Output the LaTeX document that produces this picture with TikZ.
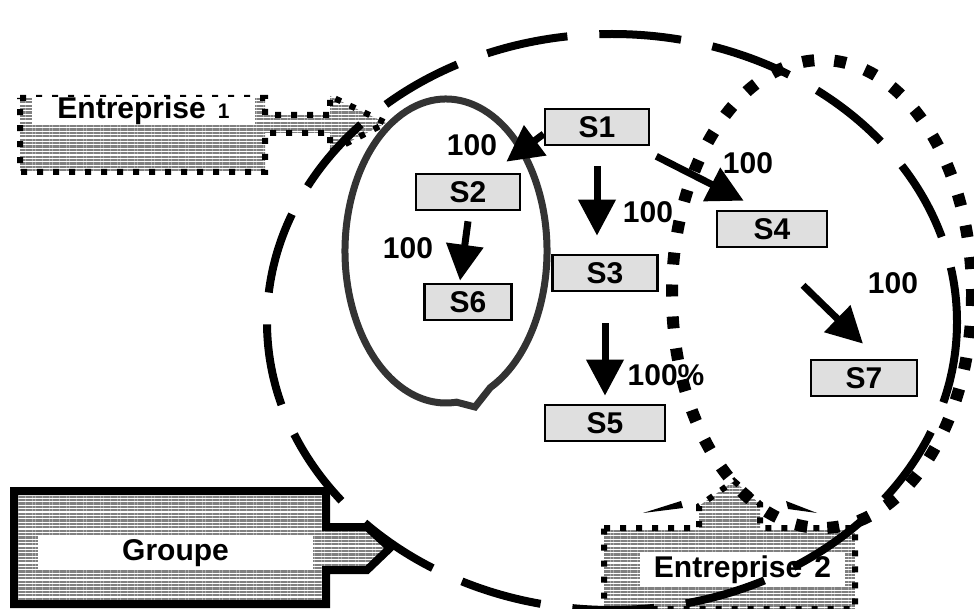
\documentclass[tikz,border=0pt]{standalone}
\usepackage{fontspec}
\setmainfont{Liberation Sans}
\usetikzlibrary{arrows.meta,patterns.meta}

\tikzset{
  sbox/.style={draw, line width=1.3pt, fill=gray!25, inner sep=0pt,
    minimum height=18pt, font=\fontsize{15}{18}\selectfont\bfseries},
  pct/.style={inner sep=0pt, font=\fontsize{15}{18}\selectfont\bfseries},
  tag/.style={fill=white, inner sep=0pt, font=\fontsize{15}{18}\selectfont\bfseries},
  link/.style={line width=3.5pt, -{Triangle[length=18pt,width=18pt]}},
  hatch/.style={pattern={Lines[angle=0,distance=1.7pt,line width=1.1pt]}, pattern color=gray},
  smalldots/.style={line width=3pt, dash pattern=on 3pt off 5pt},
}

\begin{document}
\begin{tikzpicture}[x=0.5pt, y=-0.5pt]

    \useasboundingbox (0,0) rectangle (974,609);

    % --- Callouts ---
    % Entreprise 1, pointing right
    \draw[hatch, smalldots] (20,98) -- (265,98) -- (265,115) -- (330,115) -- (330,96)
        -- (386,123) -- (330,152) -- (330,133) -- (265,133) -- (265,172) -- (20,172) -- cycle;
    \node[tag, minimum width=111.5pt, minimum height=12.5pt] (ent1) at (143.5,111)
        {Entreprise\hspace{6pt}{\fontsize{10.5}{12}\selectfont 1}};

    % Groupe, pointing right
    \draw[hatch, line width=4pt, line join=miter] (14,491) -- (326,491) -- (326,527) -- (367,527)
        -- (390,548) -- (367,570) -- (326,570) -- (326,604) -- (14,604) -- cycle;
    \node[tag, minimum width=137.5pt, minimum height=17pt] (grp) at (175.5,553) {Groupe};

    % Entreprise 2, pointing up
    \draw[hatch, smalldots] (604,528) -- (699,528) -- (699,506) -- (734,481) -- (760,504)
        -- (760,528) -- (855,528) -- (855,609) -- (604,609) -- cycle;
    \fill (643,513) -- (681,501) -- (683,508) -- cycle;
    \fill (786,501) -- (788,509) -- (817,513) -- cycle;
    \node[tag, minimum width=102.5pt, minimum height=17.5pt] (ent2) at (742.5,569.5)
        {Entreprise\hspace{6pt}2};

    % --- Circles ---
    \draw[line width=3.5pt, color=black!80, line join=miter, shift={(446,251)}]
        (84:101 and 152) -- (29,156) -- (64:101 and 152)
        arc[start angle=64, end angle=-276, x radius=101, y radius=152] -- cycle;
    \draw[line width=6pt, dash pattern=on 6pt off 10pt] (822,294) ellipse[x radius=150, y radius=234];
    \draw[line width=4pt, dash pattern=on 41pt off 16pt] (612,322) ellipse[x radius=345, y radius=288];

    % --- Subsidiaries ---
    \node[sbox, minimum width=52pt] (S1) at (597,127) {S1};
    \node[sbox, minimum width=52pt] (S2) at (468,192) {S2};
    \node[sbox, minimum width=52.5pt] (S3) at (605,273) {S3};
    \node[sbox, minimum width=55pt] (S4) at (772,229) {S4};
    \node[sbox, minimum width=60pt] (S5) at (605,423) {S5};
    \node[sbox, minimum width=43.5pt] (S6) at (468,302) {S6};
    \node[sbox, minimum width=53pt] (S7) at (864,378) {S7};

    % --- Holdings ---
    \draw[link] ([shift={(0,7)}]S1.west) -- ([shift={(-15,-11)}]S2.north east);
    \draw[link] ([shift={(0,20)}]S1.south) -- ([shift={(-8,-18)}]S3.north);
    \draw[link] ([shift={(0,10)}]S2.south) -- ([shift={(-8,-2)}]S6.north);
    \draw[link] ([shift={(6,10)}]S1.south east) -- ([shift={(28,-9)}]S4.north west);
    \draw[link] ([shift={(0,31)}]S3.south) -- ([shift={(0,-8)}]S5.north);
    \draw[link] ([shift={(31,37)}]S4.south) -- ([shift={(-1,-15)}]S7.north);

    \node[pct] (p12) at (472,145) {100};
    \node[pct] (p13) at (648,212) {100};
    \node[pct] (p26) at (408,248) {100};
    \node[pct] (p14) at (748,163) {100};
    \node[pct] (p47) at (893,283) {100};
    \node[pct] (p35) at (666,375) {100\%};

\end{tikzpicture}
\end{document}
